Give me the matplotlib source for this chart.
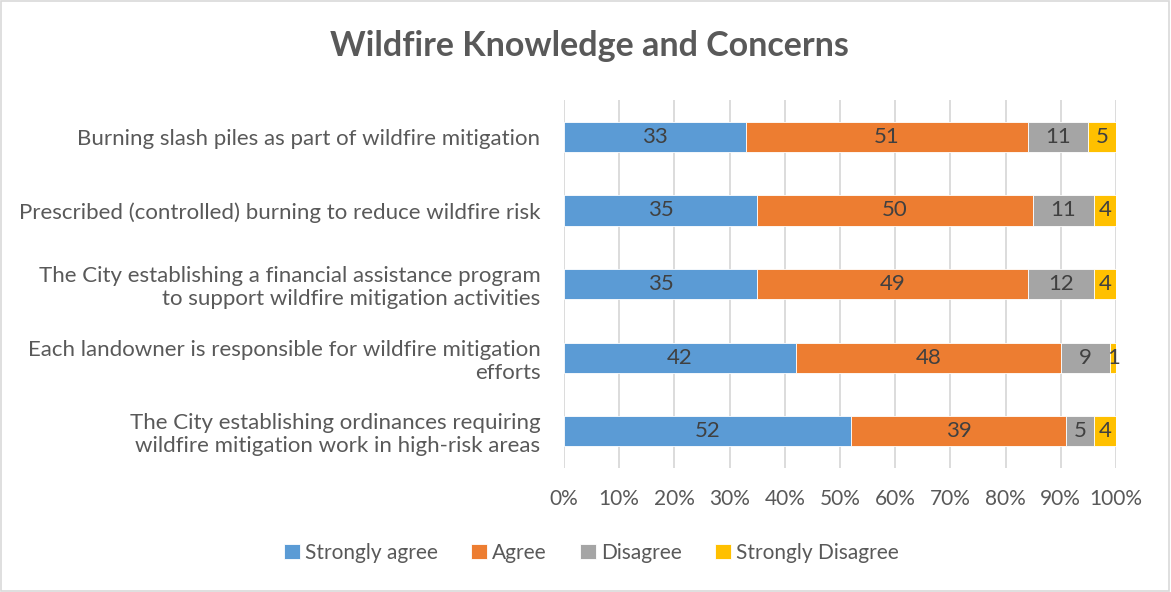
import matplotlib
matplotlib.use("Agg")
import matplotlib.pyplot as plt
from matplotlib.patches import Rectangle
from matplotlib.ticker import PercentFormatter

plt.rcParams['font.family'] = ['Lato', 'DejaVu Sans']

categories = [
    "Burning slash piles as part of wildfire mitigation",
    "Prescribed (controlled) burning to reduce wildfire risk",
    "The City establishing a financial assistance program\nto support wildfire mitigation activities",
    "Each landowner is responsible for wildfire mitigation\nefforts",
    "The City establishing ordinances requiring\nwildfire mitigation work in high-risk areas",
]
series_names = ["Strongly agree", "Agree", "Disagree", "Strongly Disagree"]
strongly_agree = [33, 35, 35, 42, 52]
agree = [51, 50, 49, 48, 39]
disagree = [11, 11, 12, 9, 5]
strongly_disagree = [5, 4, 4, 1, 4]
colors = ["#5B9BD5", "#ED7D31", "#A5A5A5", "#FFC000"]

series = [strongly_agree, agree, disagree, strongly_disagree]

fig = plt.figure(figsize=(11.71, 5.92), dpi=100)
ax = fig.add_axes([0.4816, 0.2095, 0.4714, 0.6215])

text_color = "#595959"
label_color = "#404040"
y = list(range(len(categories)))
left = [0] * len(categories)
handles = []
for vals, name, col in zip(series, series_names, colors):
    bars = ax.barh(y, vals, left=left, height=0.41, color=col,
                   edgecolor="white", linewidth=0.6, label=name, zorder=3)
    handles.append(bars)
    for yi, v, l in zip(y, vals, left):
        ax.text(l + v / 2, yi, str(v), ha="center", va="center",
                fontsize=16, color=label_color, zorder=4)
    left = [a + b for a, b in zip(left, vals)]

ax.set_xlim(0, 100)
ax.set_ylim(len(categories) - 0.5, -0.5)
ax.set_xticks(range(0, 101, 10))
ax.xaxis.set_major_formatter(PercentFormatter(100, decimals=0))
ax.set_yticks(y)
ax.set_yticklabels(categories, linespacing=1.2)
ax.tick_params(axis="x", length=0, pad=15, labelsize=15, labelcolor=text_color)
ax.tick_params(axis="y", length=0, pad=17, labelsize=16, labelcolor=text_color)
for lbl in ax.get_yticklabels():
    lbl.set_horizontalalignment("right")
ax.grid(axis="x", color="#D9D9D9", linewidth=1.3, zorder=0)
for s in ax.spines.values():
    s.set_visible(False)

fig.suptitle("Wildfire Knowledge and Concerns", x=0.503, y=0.95,
             fontsize=24.5, fontweight="bold", color=text_color)

leg = fig.legend(handles=handles, labels=series_names, loc="center",
                 bbox_to_anchor=(0.505, 0.066), ncol=4, frameon=False,
                 fontsize=15, handlelength=0.75, handleheight=0.75,
                 handletextpad=0.25, columnspacing=1.6)
for t in leg.get_texts():
    t.set_color(text_color)

fig.patches.append(Rectangle((0.001, 0.002), 0.997, 0.996, transform=fig.transFigure,
                             fill=False, edgecolor="#D9D9D9", linewidth=1.2))

fig.savefig("out.png", dpi=100, facecolor="white")
